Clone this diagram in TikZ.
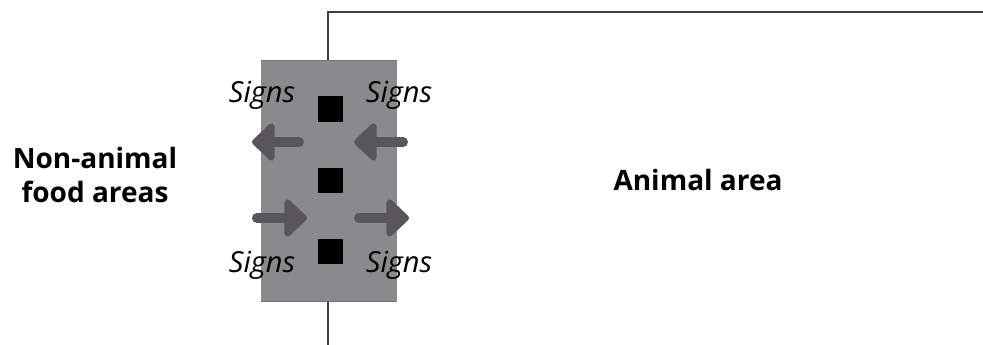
\documentclass[tikz,border=0pt]{standalone}
\usepackage{fontspec}
\setmainfont{Open Sans}
\usetikzlibrary{arrows.meta}

\definecolor{boxgrey}{HTML}{8A8A8C}
\definecolor{arrowgrey}{HTML}{58565A}

\tikzset{
    signlabel/.style={font=\fontsize{29}{33}\selectfont\itshape},
    arealabel/.style={font=\fontsize{28}{34}\selectfont\bfseries, align=center},
    signbox/.style={fill=black, minimum size=25pt, inner sep=0pt},
    flow/.style={arrowgrey, line width=10pt, line cap=round,
        -{Triangle[round, length=24pt, width=44pt]}}
}

\begin{document}
\begin{tikzpicture}[x=1pt, y=-1pt]
    \useasboundingbox (0,0) rectangle (983,345);

    % wall between the areas
    \draw[line width=1.3pt, black!75] (328,345) -- (328,12) -- (983,12);

    % grey passage
    \fill[boxgrey] (261,60) rectangle (397,301);
    \draw[black!55] (261,60) -- (397,60);
    \draw[black!55] (261,301) -- (397,301);

    \node[signbox] (s1) at (330,109) {};
    \node[signbox] (s2) at (330,180) {};
    \node[signbox] (s3) at (330,251) {};

    % flows
    \coordinate (ula) at (299,142);
    \coordinate (ulb) at (252,142);
    \coordinate (ura) at (403,142);
    \coordinate (urb) at (354,142);
    \coordinate (lla) at (257,218);
    \coordinate (llb) at (307,218);
    \coordinate (lra) at (359,218);
    \coordinate (lrb) at (409,218);
    \draw[flow] (ula) -- (ulb);
    \draw[flow] (ura) -- (urb);
    \draw[flow] (lla) -- (llb);
    \draw[flow] (lra) -- (lrb);

    \node[signlabel] (t1) at (262,95) {Signs};
    \node[signlabel] (t2) at (399,95) {Signs};
    \node[signlabel] (t3) at (262,265) {Signs};
    \node[signlabel] (t4) at (399,265) {Signs};

    \node[arealabel] (food) at (95,175) {Non-animal\\food areas};
    \node[arealabel] (animal) at (698,180) {Animal area};
\end{tikzpicture}
\end{document}
